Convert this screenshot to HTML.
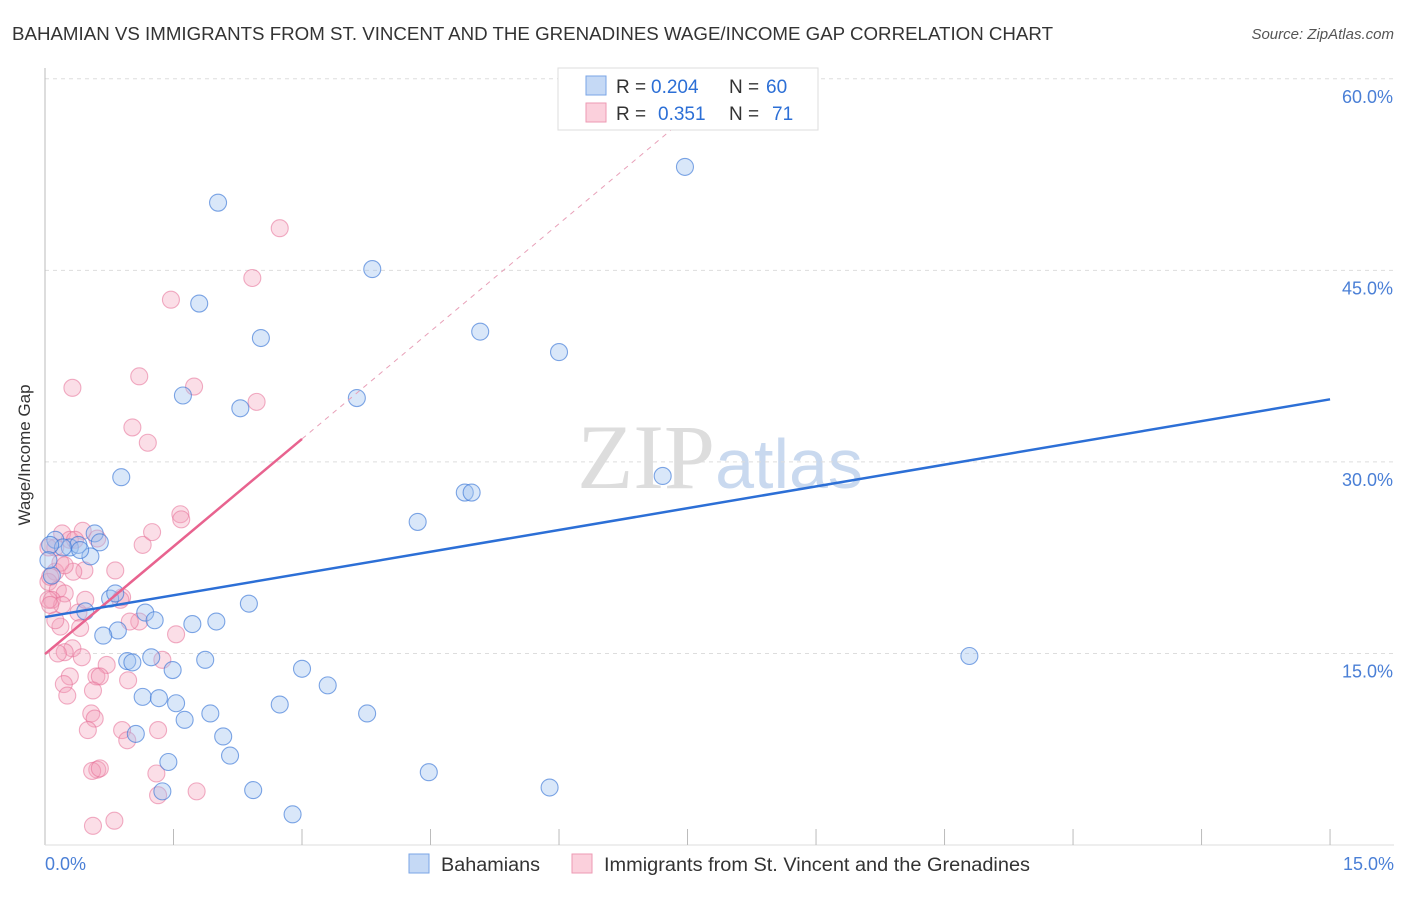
<!DOCTYPE html>
<html><head><meta charset="utf-8"><style>
body{margin:0;background:#fff;font-family:"Liberation Sans",sans-serif}
</style></head><body>
<svg width="1406" height="892" xmlns="http://www.w3.org/2000/svg" font-family="Liberation Sans, sans-serif">
<text x="12" y="40" font-size="18" fill="#333" textLength="1041" lengthAdjust="spacingAndGlyphs">BAHAMIAN VS IMMIGRANTS FROM ST. VINCENT AND THE GRENADINES WAGE/INCOME GAP CORRELATION CHART</text>
<text x="1394" y="39" font-size="15" fill="#555" font-style="italic" text-anchor="end">Source: ZipAtlas.com</text>
<text x="720" y="488" font-size="92" fill="#ddd" text-anchor="middle" font-family="Liberation Serif, serif">ZIP<tspan fill="#c9d9ef" font-family="Liberation Sans, sans-serif" font-size="70">atlas</tspan></text>
<g id="grid"></g>
<g id="axes"></g>
<g id="pink"></g>
<g id="blue"></g>
<g id="lines"></g>
<text x="30" y="455" font-size="17" fill="#333" text-anchor="middle" transform="rotate(-90 30 455)">Wage/Income Gap</text>
<text x="45" y="870" font-size="18" fill="#4a7fd6">0.0%</text>
<text x="1394" y="870" font-size="18" fill="#4a7fd6" text-anchor="end">15.0%</text>
<g>
<rect x="558" y="68" width="260" height="62" fill="#fff" stroke="#ddd"/>
<rect x="586" y="76" width="20" height="19" fill="#c5d9f5" stroke="#7aa5e6"/>
<rect x="586" y="103" width="20" height="19" fill="#fbd0dc" stroke="#ee9ab3"/>
<text y="93" font-size="19" fill="#333"><tspan x="616">R =</tspan><tspan x="651" fill="#2c6fd6">0.204</tspan><tspan x="729">N =</tspan><tspan x="766" fill="#2c6fd6">60</tspan></text>
<text y="120" font-size="19" fill="#333"><tspan x="616">R =</tspan><tspan x="658" fill="#2c6fd6">0.351</tspan><tspan x="729">N =</tspan><tspan x="772" fill="#2c6fd6">71</tspan></text>
</g>
<g>
<rect x="409" y="854" width="20" height="19" fill="#c5d9f5" stroke="#7aa5e6"/>
<text x="441" y="871" font-size="19" fill="#333" textLength="99" lengthAdjust="spacingAndGlyphs">Bahamians</text>
<rect x="572" y="854" width="20" height="19" fill="#fbd0dc" stroke="#ee9ab3"/>
<text x="604" y="871" font-size="19" fill="#333" textLength="426" lengthAdjust="spacingAndGlyphs">Immigrants from St. Vincent and the Grenadines</text>
</g>
</svg>
<script>
const yTicks=[15,30,45,60];
const xTickVals=[0,1.5,3,4.5,6,7.5,9,10.5,12,13.5,15];
const blueX=[7.47,2.02,3.82,1.80,2.52,5.08,6.0,1.61,2.28,3.64,0.89,7.21,4.90,4.98,4.35,0.58,0.12,0.29,0.39,0.64,0.53,0.41,0.21,0.06,0.76,0.82,0.47,1.17,1.28,1.72,2.0,2.38,0.85,0.68,0.96,1.02,1.24,1.87,1.49,3.0,3.30,1.14,1.33,1.53,1.63,1.93,3.76,2.74,2.08,1.06,2.16,1.44,4.48,5.89,1.37,2.43,2.89,10.79,0.08,0.04];
const blueY=[53.1,50.3,45.1,42.4,39.7,40.2,38.6,35.2,34.2,35.0,28.8,28.9,27.6,27.6,25.3,24.4,23.9,23.3,23.5,23.7,22.6,23.1,23.3,23.5,19.3,19.7,18.3,18.2,17.6,17.3,17.5,18.9,16.8,16.4,14.4,14.3,14.7,14.5,13.7,13.8,12.5,11.6,11.5,11.1,9.8,10.3,10.3,11.0,8.5,8.7,7.0,6.5,5.7,4.5,4.2,4.3,2.4,14.8,21.1,22.3];
const pinkX=[2.74,2.42,1.47,0.32,1.10,1.74,2.47,1.02,1.20,1.58,1.59,0.20,0.61,0.44,0.29,1.14,1.25,0.12,0.04,0.82,0.46,0.33,0.12,0.04,0.06,0.15,0.23,0.08,0.20,0.90,0.39,1.10,0.99,1.53,0.41,0.18,0.32,0.23,0.15,0.72,0.43,0.60,0.64,0.29,0.97,0.22,0.56,0.26,1.37,0.54,0.58,0.50,0.90,1.32,0.96,0.61,0.55,0.64,1.30,1.32,1.77,0.56,0.81,0.04,0.12,0.18,0.88,0.06,0.47,0.35,0.23];
const pinkY=[48.3,44.4,42.7,35.8,36.7,35.9,34.7,32.7,31.5,25.9,25.5,24.4,24.0,24.6,23.9,23.5,24.5,23.3,23.3,21.5,21.5,21.4,21.4,20.6,21.0,20.0,19.7,19.2,18.8,19.4,18.2,17.5,17.5,16.5,17.0,17.1,15.4,15.1,15.0,14.1,14.7,13.2,13.2,13.2,12.9,12.6,12.1,11.7,14.5,10.3,9.9,9.0,9.0,9.0,8.2,5.9,5.8,6.0,5.6,3.9,4.2,1.5,1.9,19.2,17.6,22.1,19.2,18.8,19.2,23.9,21.9];
const blueTrend=[[0,17.85],[15,34.9]];
const pinkTrend=[[0,14.95],[3,31.8]];
const NS="http://www.w3.org/2000/svg";
const sx=v=>45+v*85.67, sy=v=>845-v*12.77;
function mk(p,t,a){const e=document.createElementNS(NS,t);for(const k in a)e.setAttribute(k,a[k]);p.appendChild(e);return e;}
const grid=document.getElementById('grid'),axes=document.getElementById('axes');
yTicks.forEach(v=>{
 const l=mk(grid,'line',{x1:45,x2:1394,y1:sy(v),y2:sy(v),stroke:'#ddd','stroke-dasharray':'4 4'});
 
 
 const t=mk(axes,'text',{x:1393,y:sy(v)+24,'font-size':18,fill:'#4a7fd6','text-anchor':'end'});
 t.textContent=v.toFixed(1)+'%';
 
 
});
let a=mk(axes,'line',{x1:45,x2:45,y1:68,y2:845,stroke:'#bbb'});


a=mk(axes,'line',{x1:45,x2:1394,y1:845,y2:845,stroke:'#ddd'});


xTickVals.slice(1).forEach(v=>{
 const t=mk(axes,'line',{x1:sx(v),x2:sx(v),y1:829,y2:845,stroke:'#bbb'});
 
 
});
function pts(g,X,Y,fill,stroke,name){X.forEach((x,i)=>{
 const c=mk(g,'circle',{cx:sx(x),cy:sy(Y[i]),r:8.5,fill:fill,stroke:stroke,'stroke-width':1.1});
 
 
});}
pts(document.getElementById('pink'),pinkX,pinkY,'rgba(244,160,185,0.35)','rgba(230,110,150,0.55)','immigrants-point');
pts(document.getElementById('blue'),blueX,blueY,'rgba(160,195,240,0.4)','rgba(60,120,215,0.65)','bahamians-point');
const L=document.getElementById('lines');
let ln=mk(L,'line',{x1:sx(pinkTrend[1][0]),y1:sy(pinkTrend[1][1]),x2:sx(7.6),y2:sy(pinkTrend[0][1]+(pinkTrend[1][1]-pinkTrend[0][1])/3*7.6),stroke:'#e8a0b8','stroke-dasharray':'5 5'});


ln=mk(L,'line',{x1:sx(pinkTrend[0][0]),y1:sy(pinkTrend[0][1]),x2:sx(pinkTrend[1][0]),y2:sy(pinkTrend[1][1]),stroke:'#e8638f','stroke-width':2.5});


ln=mk(L,'line',{x1:sx(blueTrend[0][0]),y1:sy(blueTrend[0][1]),x2:sx(blueTrend[1][0]),y2:sy(blueTrend[1][1]),stroke:'#2c6fd6','stroke-width':2.5});


</script>
</body></html>
